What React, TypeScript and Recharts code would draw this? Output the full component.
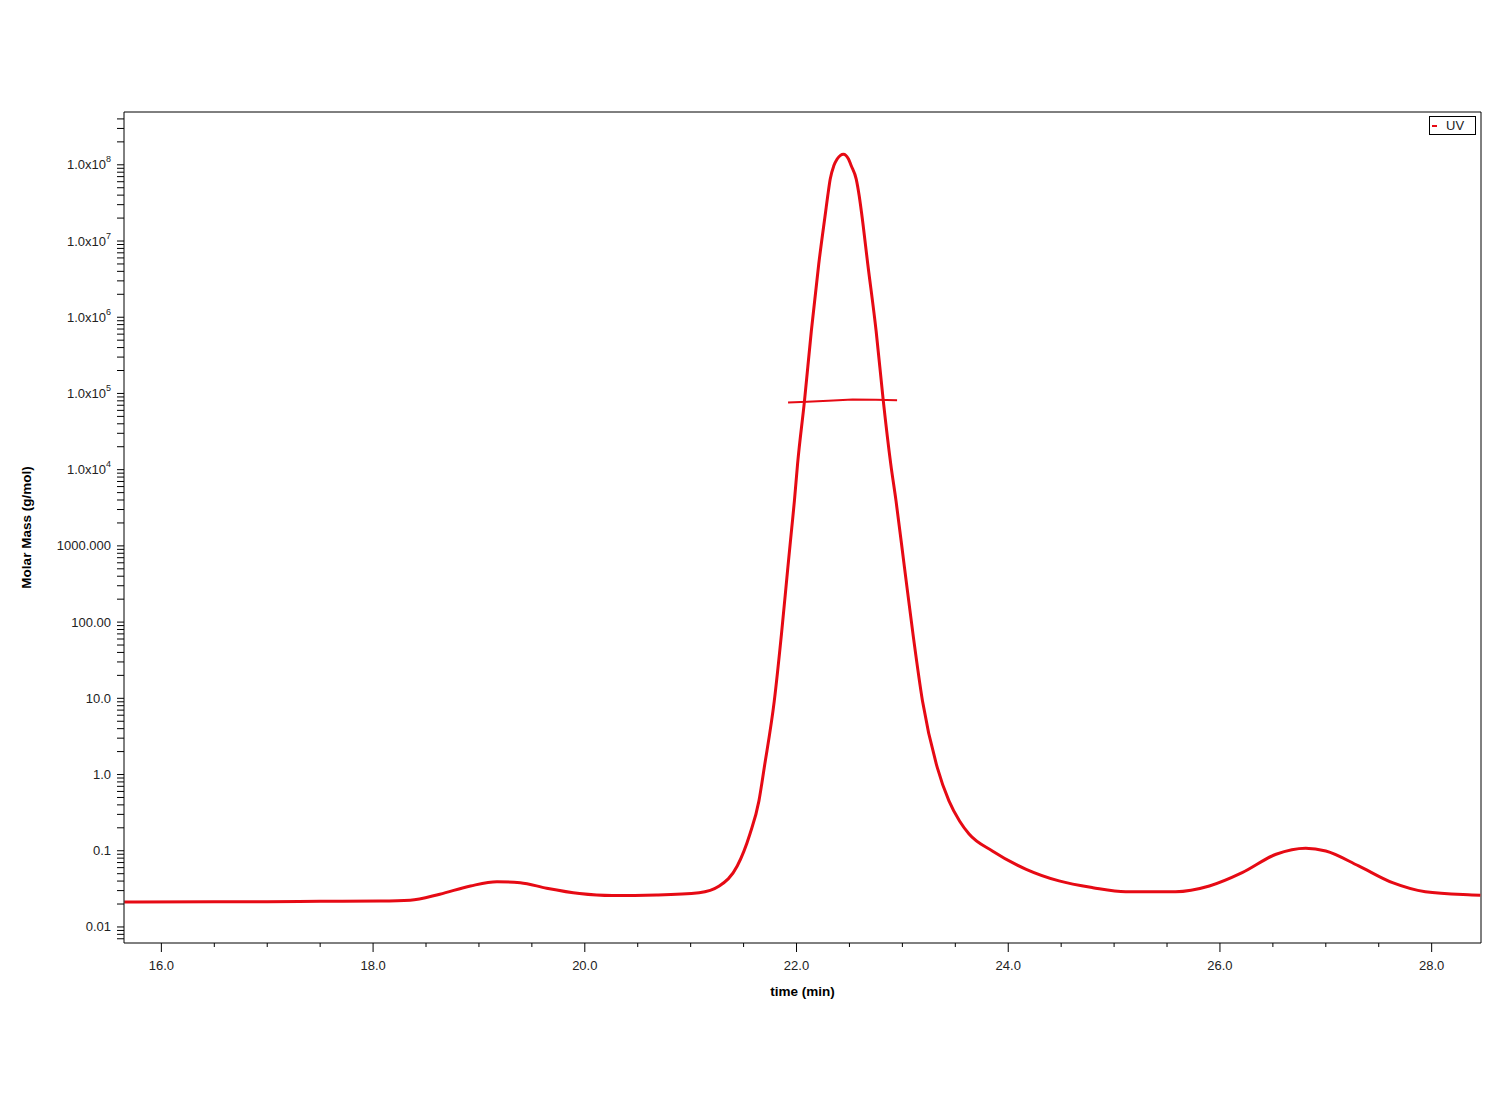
import React from "react";
import { LineChart, Line, XAxis, YAxis, Legend, ReferenceLine } from "recharts";

// --- UV trace (time in min, molar mass axis value) ---
const uvTime = [
  15.65, 16.5, 17.0, 17.5, 18.07, 18.35, 18.63, 18.92, 19.17, 19.39, 19.64, 19.95,
  20.26, 20.68, 21.08, 21.27, 21.44, 21.56, 21.645, 21.695, 21.79, 21.858, 21.918,
  21.955, 21.98, 22.01, 22.075, 22.14, 22.21, 22.274, 22.295, 22.318, 22.352, 22.384,
  22.443, 22.491, 22.517, 22.564, 22.592, 22.614, 22.673, 22.752, 22.82, 22.89, 22.94,
  23.02, 23.1, 23.19, 23.33, 23.44, 23.54, 23.63, 23.85, 24.17, 24.48, 24.8, 25.11,
  25.58, 25.9, 26.21, 26.53, 26.81, 27.0, 27.31, 27.63, 27.94, 28.38, 28.46,
];
const uvMass = [
  0.0213, 0.0214, 0.0215, 0.0217, 0.0219, 0.0224, 0.0269, 0.0345, 0.0393, 0.0381, 0.0322, 0.0274,
  0.0258, 0.0263, 0.0282, 0.0345, 0.063, 0.166, 0.451, 1.23, 9.25, 70, 519,
  1720, 3890, 11900, 79400, 6.6e5, 5.0e6, 2.37e7, 3.92e7, 6.48e7, 9.7e7, 1.19e8,
  1.38e8, 1.19e8, 9.7e7, 6.48e7, 3.92e7, 2.37e7, 5.0e6, 6.6e5, 79400, 11900, 3890,
  519, 70, 9.25, 1.23, 0.451, 0.246, 0.166, 0.0993, 0.0571, 0.0402, 0.0328, 0.029,
  0.029, 0.0345, 0.0516, 0.0899, 0.108, 0.0993, 0.0632, 0.0381, 0.029, 0.0263, 0.026,
];

// --- Molar mass segment across the main peak ---
const mmTime = [21.92, 22.1, 22.3, 22.53, 22.75, 22.95];
const mmMass = [76000, 78000, 80000, 83000, 82500, 81500];

// --- Axes ---
const xDomain = [15.647, 28.466];
const xMajor = [16, 18, 20, 22, 24, 26, 28];
const xTicks = [
  16, 16.5, 17, 17.5, 18, 18.5, 19, 19.5, 20, 20.5, 21, 21.5, 22, 22.5, 23, 23.5,
  24, 24.5, 25, 25.5, 26, 26.5, 27, 27.5, 28,
];

const yDomain = [0.00616, 4.93e8];
const yDecades = [0.001, 0.01, 0.1, 1, 10, 100, 1000, 1e4, 1e5, 1e6, 1e7, 1e8];
const yDecadeLabels = ["", "0.01", "0.1", "1.0", "10.0", "100.00", "1000.000", "1.0x10", "1.0x10", "1.0x10", "1.0x10", "1.0x10"];
const yDecadeSup = ["", "", "", "", "", "", "", "4", "5", "6", "7", "8"];
const yMinorSteps = [2, 3, 4, 5, 6, 7, 8, 9];

const yTicks: number[] = [];
yDecades.forEach((d) => {
  [1, ...yMinorSteps].forEach((m) => {
    const v = Number((m * d).toPrecision(6));
    if (v >= yDomain[0] && v <= yDomain[1]) yTicks.push(v);
  });
});

const uvData = uvTime.map((t, i) => ({ t, v: uvMass[i] }));
const mmData = mmTime.map((t, i) => ({ t, v: mmMass[i] }));

const RED = "#e60a14";
const FONT = "'Liberation Sans', Arial, sans-serif";

const XTick = ({ x, y, payload }: any) => {
  const v = payload.value;
  const major = xMajor.some((m) => Math.abs(m - v) < 1e-6);
  return (
    <g>
      <line x1={x} x2={x} y1={y} y2={y + (major ? 9 : 4)} stroke="#000" />
      {major && (
        <text x={x} y={y + 27} textAnchor="middle" fontFamily={FONT} fontSize={13} fill="#222">
          {v.toFixed(1)}
        </text>
      )}
    </g>
  );
};

const YTick = ({ x, y, payload }: any) => {
  const v = payload.value;
  const idx = yDecades.findIndex((d) => Math.abs(Math.log10(d) - Math.log10(v)) < 1e-6);
  return (
    <g>
      <line x1={x - 7} x2={x} y1={y} y2={y} stroke="#000" />
      {idx > 0 && (
        <text x={x - 13} y={y + 4.5} textAnchor="end" fontFamily={FONT} fontSize={13} fill="#222">
          <tspan>{yDecadeLabels[idx]}</tspan>
          {yDecadeSup[idx] && (
            <tspan dy={-7} fontSize={9}>
              {yDecadeSup[idx]}
            </tspan>
          )}
        </text>
      )}
    </g>
  );
};

const XLabel = ({ viewBox }: any) => (
  <text
    x={viewBox.x + viewBox.width / 2}
    y={viewBox.y + 53}
    textAnchor="middle"
    fontFamily={FONT}
    fontSize={13.5}
    fontWeight="bold"
    fill="#000"
  >
    time (min)
  </text>
);

const YLabel = ({ viewBox }: any) => {
  const cx = viewBox.x + 31;
  const cy = viewBox.y + viewBox.height / 2;
  return (
    <text
      x={cx}
      y={cy}
      transform={`rotate(-90, ${cx}, ${cy})`}
      textAnchor="middle"
      fontFamily={FONT}
      fontSize={13.5}
      fontWeight="bold"
      fill="#000"
    >
      Molar Mass (g/mol)
    </text>
  );
};

const UvLegend = () => (
  <div
    style={{
      boxSizing: "border-box",
      width: 47,
      height: 19,
      border: "1px solid #000",
      background: "#fff",
      fontFamily: FONT,
      fontSize: 13,
      color: "#222",
      display: "flex",
      alignItems: "center",
      paddingLeft: 2,
    }}
  >
    <span style={{ display: "inline-block", width: 5, height: 2, background: RED, marginRight: 9 }} />
    UV
  </div>
);

export default function App() {
  return (
    <div style={{ position: "absolute", left: 0, top: 0, width: 1500, height: 1100, background: "#fff" }}>
      <LineChart width={1500} height={1100} margin={{ top: 112, right: 19, bottom: 97, left: 0 }}>
        <XAxis
          dataKey="t"
          type="number"
          domain={xDomain}
          allowDataOverflow
          ticks={xTicks}
          interval={0}
          tick={<XTick />}
          tickLine={false}
          tickSize={0}
          tickMargin={0}
          axisLine={{ stroke: "#000" }}
          height={60}
          label={<XLabel />}
        />
        <YAxis
          scale="log"
          type="number"
          domain={yDomain}
          allowDataOverflow
          ticks={yTicks}
          interval={0}
          tick={<YTick />}
          tickLine={false}
          tickSize={0}
          tickMargin={0}
          axisLine={{ stroke: "#000" }}
          width={124}
          label={<YLabel />}
        />
        {/* frame: top and right edges of the plot box */}
        <ReferenceLine y={yDomain[1]} stroke="#000" strokeWidth={1} />
        <ReferenceLine x={xDomain[1]} stroke="#000" strokeWidth={1} />
        <Legend
          content={<UvLegend />}
          layout="horizontal"
          align="center"
          verticalAlign="middle"
          wrapperStyle={{ top: 116, left: 1429, width: 47, height: 19 }}
        />
        <Line
          data={uvData}
          dataKey="v"
          name="UV"
          type="monotone"
          stroke={RED}
          strokeWidth={3}
          dot={false}
          isAnimationActive={false}
        />
        <Line
          data={mmData}
          dataKey="v"
          name="Molar Mass"
          type="linear"
          stroke={RED}
          strokeWidth={2}
          dot={false}
          legendType="none"
          isAnimationActive={false}
        />
      </LineChart>
    </div>
  );
}
